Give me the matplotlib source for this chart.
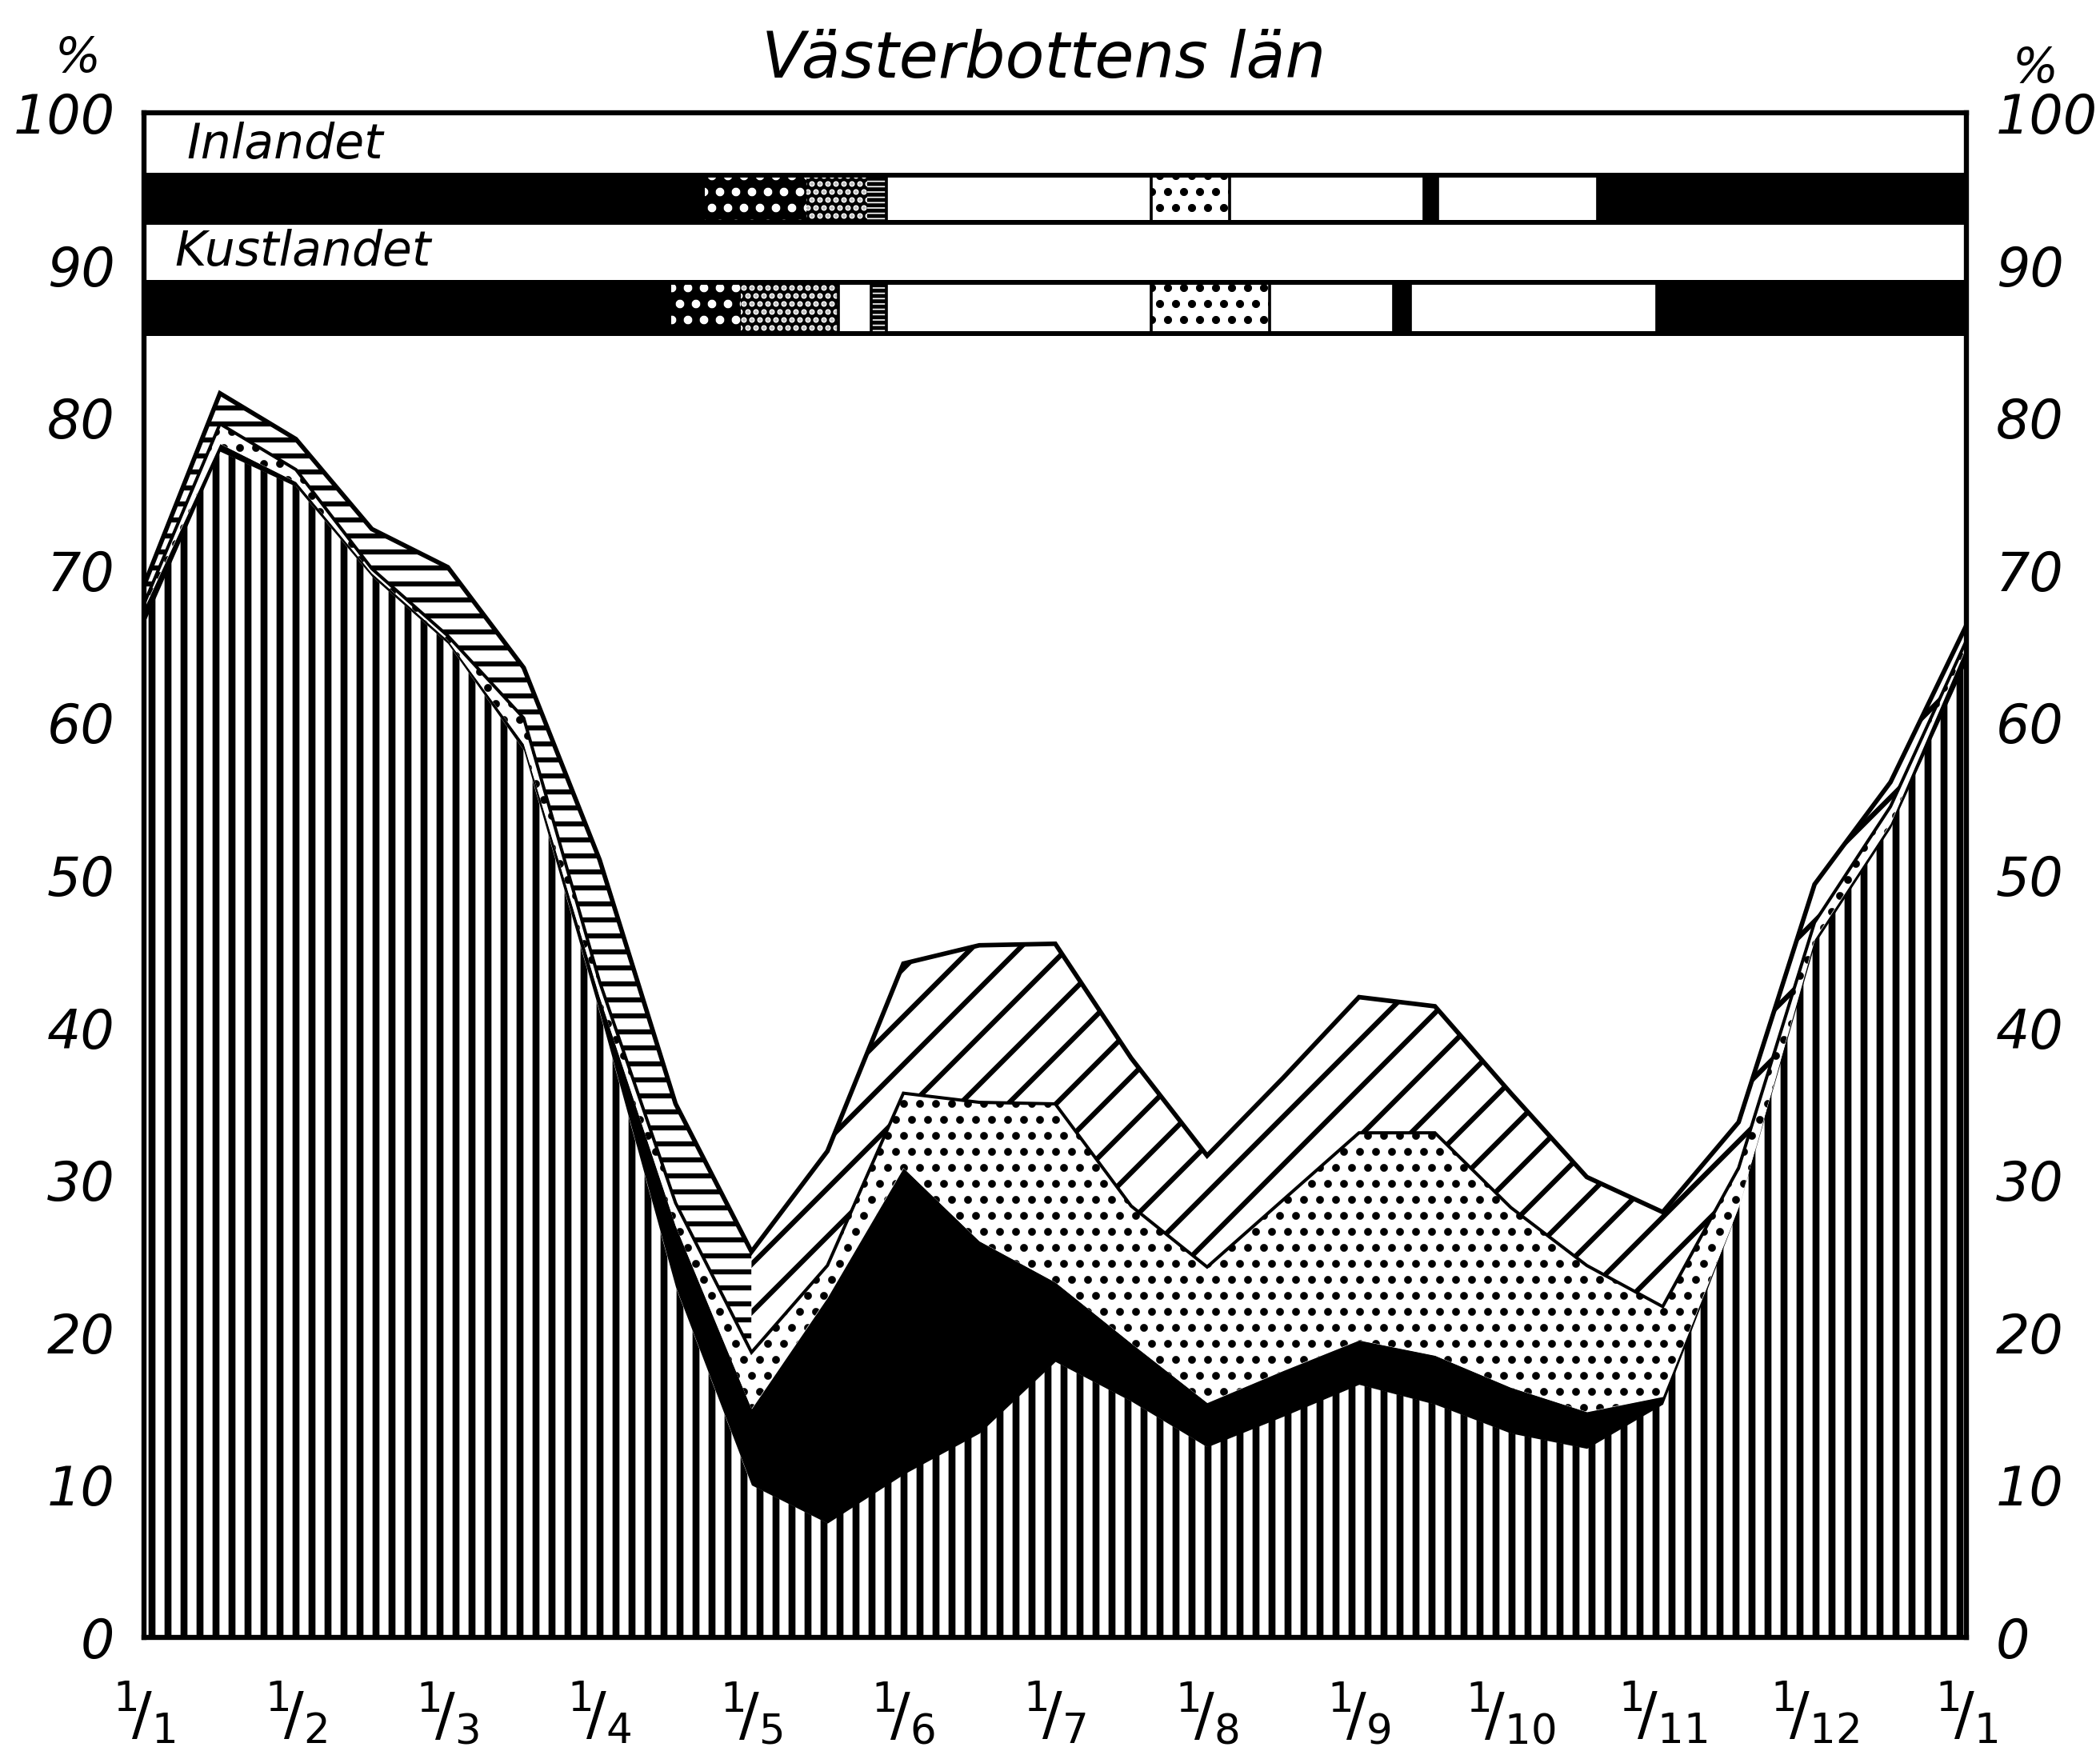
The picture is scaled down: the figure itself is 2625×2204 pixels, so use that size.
import numpy as np
import matplotlib
matplotlib.use("Agg")
import matplotlib.pyplot as plt
from matplotlib.backend_bases import GraphicsContextBase

# ---------------- data ----------------
dates = ["1/1", "15/1", "1/2", "15/2", "1/3", "15/3", "1/4", "15/4", "1/5",
         "15/5", "1/6", "15/6", "1/7", "15/7", "1/8", "15/8", "1/9", "15/9",
         "1/10", "15/10", "1/11", "15/11", "1/12", "15/12", "1/1"]
# stacked layers, bottom to top (percent)
vertical = [66.5, 77.8, 75.5, 69.6, 65.2, 58.2, 41.0, 23.0, 10.0, 7.5, 10.7, 13.4,
            18.1, 15.5, 12.5, 14.5, 16.6, 15.3, 13.4, 12.4, 15.3, 28.2, 45.5, 53.1, 64.0]
black = [1.0, 0.5, 0.3, 0.2, 0.2, 0.4, 1.0, 4.0, 5.0, 14.8, 20.1, 12.6,
         5.2, 3.8, 2.9, 3.0, 2.9, 3.2, 3.0, 2.4, 0.5, 0.0, 0.3, 0.3, 1.0]
dotted = [0.3, 1.3, 0.8, 0.3, 0.3, 1.7, 1.0, 1.5, 3.7, 2.1, 4.9, 9.1,
          11.7, 9.0, 8.9, 11.2, 13.6, 14.6, 11.8, 9.6, 5.9, 2.6, 1.1, 1.1, 0.4]
diag = [1.2, 2.0, 2.0, 2.6, 4.5, 3.3, 8.0, 6.5, 6.6, 7.5, 8.5, 10.3,
        10.5, 9.7, 7.3, 8.0, 8.9, 8.3, 7.5, 5.8, 6.2, 3.0, 2.5, 1.6, 1.0]

month_labels = ["1", "2", "3", "4", "5", "6", "7", "8", "9", "10", "11", "12", "1"]
y_ticks = [0, 10, 20, 30, 40, 50, 60, 70, 80, 90, 100]

# season bars (months from 1/1)
inland_start = [0.0, 3.69, 4.36, 4.76, 4.89, 6.63, 7.15, 8.43, 8.52, 9.57]
inland_end = [3.69, 4.36, 4.76, 4.89, 6.63, 7.15, 8.43, 8.52, 9.57, 12.0]
inland_kind = ["black", "sparse", "dense", "dash", "white", "dots", "white",
               "black", "white", "black"]
coast_start = [0.0, 3.47, 3.93, 4.57, 4.79, 4.89, 6.63, 7.41, 8.23, 8.34, 9.96]
coast_end = [3.47, 3.93, 4.57, 4.79, 4.89, 6.63, 7.41, 8.23, 8.34, 9.96, 12.0]
coast_kind = ["black", "sparse", "dense", "white", "dash", "white", "dots",
              "white", "black", "white", "black"]

title = "Västerbottens län"

# sparser '/' hatching (like the hand-drawn original)
_orig_ghp = GraphicsContextBase.get_hatch_path


def _ghp(self, density=6.0):
    h = self.get_hatch()
    if h == "/":
        density = 4.0
    return _orig_ghp(self, density)


GraphicsContextBase.get_hatch_path = _ghp

plt.rcParams["mathtext.fontset"] = "dejavusans"

# ---------------- figure ----------------
DPI = 120
fig = plt.figure(figsize=(2625 / DPI, 2204 / DPI), dpi=DPI)
fig.patch.set_facecolor("white")
ax = fig.add_axes([0.0686, 0.0712, 0.8678, 0.8648])
ax.set_xlim(0, 12)
ax.set_ylim(0, 100)

FONT = dict(family="DejaVu Sans", style="italic")


def hfill(lo, hi, hatch, fc, hlw, where=None, ec="black"):
    with plt.rc_context({"hatch.linewidth": hlw}):
        c = ax.fill_between(x, lo, hi, where=where, facecolor=fc, edgecolor=ec,
                            linewidth=0, hatch=hatch, zorder=2)
    if hasattr(c, "set_hatch_linewidth"):
        c.set_hatch_linewidth(hlw)
    return c


x = np.arange(len(dates)) * 0.5
c1 = np.array(vertical)
c2 = c1 + np.array(black)
c3 = c2 + np.array(dotted)
c4 = c3 + np.array(diag)

hfill(np.zeros_like(c1), c1, "|", "white", 5.2)
hfill(c1, c2, None, "black", 1.0)
hfill(c2, c3, ".", "white", 3.4)
hfill(c3, c4, "-", "white", 3.8, where=x <= 4.0)
hfill(c3, c4, "/", "white", 3.8, where=x >= 4.0)
ax.plot(x, c3, color="black", lw=2.4, zorder=4, solid_joinstyle="miter")
ax.plot(x, c4, color="black", lw=3.4, zorder=4, solid_joinstyle="miter")

# ---------------- season bars ----------------
STY = {
    "black": dict(fc="black", ec="black", hatch=None, hlw=1.0),
    "sparse": dict(fc="black", ec="white", hatch=".", hlw=4.0),
    "dense": dict(fc="black", ec="white", hatch="..", hlw=3.0),
    "dash": dict(fc="white", ec="black", hatch="---", hlw=3.0),
    "white": dict(fc="white", ec="black", hatch=None, hlw=1.0),
    "dots": dict(fc="white", ec="black", hatch=".", hlw=3.6),
}


def draw_bar(starts, ends, kinds, y0, y1):
    for s, e, k in zip(starts, ends, kinds):
        st = STY[k]
        with plt.rc_context({"hatch.linewidth": st["hlw"]}):
            bars = ax.bar(s, y1 - y0, width=e - s, bottom=y0, align="edge",
                          facecolor=st["fc"], edgecolor=st["ec"], hatch=st["hatch"],
                          linewidth=0, zorder=3)
        for b in bars:
            if hasattr(b, "set_hatch_linewidth"):
                b.set_hatch_linewidth(st["hlw"])
        if k == "white":
            ax.vlines([s, e], y0, y1, color="black", lw=2.2, zorder=4)
    ax.hlines([y0, y1], 0, 12, color="black", lw=3.6, zorder=4)


draw_bar(inland_start, inland_end, inland_kind, 92.8, 95.9)
draw_bar(coast_start, coast_end, coast_kind, 85.5, 88.9)
ax.text(0.28, 97.9, "Inlandet", fontsize=36, va="center", ha="left", **FONT)
ax.text(0.2, 90.9, "Kustlandet", fontsize=36, va="center", ha="left", **FONT)

# ---------------- axes styling ----------------
for sp in ax.spines.values():
    sp.set_linewidth(3.8)
    sp.set_zorder(5)

ax.set_yticks(y_ticks)
ax.set_yticklabels([str(v) for v in y_ticks], fontsize=40, **FONT)
ax.tick_params(axis="y", length=0, pad=22, labelright=True, right=False)
for t in ax.yaxis.get_major_ticks():
    for lab in (t.label1, t.label2):
        lab.set_style("italic")
        lab.set_family("DejaVu Sans")

ax.set_xticks(np.arange(len(month_labels)))
ax.set_xticklabels([r"$^{\mathit{1}}\!\mathit{/}_{\mathit{%s}}$" % m for m in month_labels],
                   fontsize=44)
ax.tick_params(axis="x", length=0, pad=32)

fig.text(0.497, 0.966, title, fontsize=48, ha="center", va="center", **FONT)
fig.text(0.037, 0.967, "%", fontsize=36, ha="center", va="center", **FONT)
fig.text(0.969, 0.961, "%", fontsize=36, ha="center", va="center", **FONT)

fig.savefig("out.png", dpi=DPI, facecolor="white")
